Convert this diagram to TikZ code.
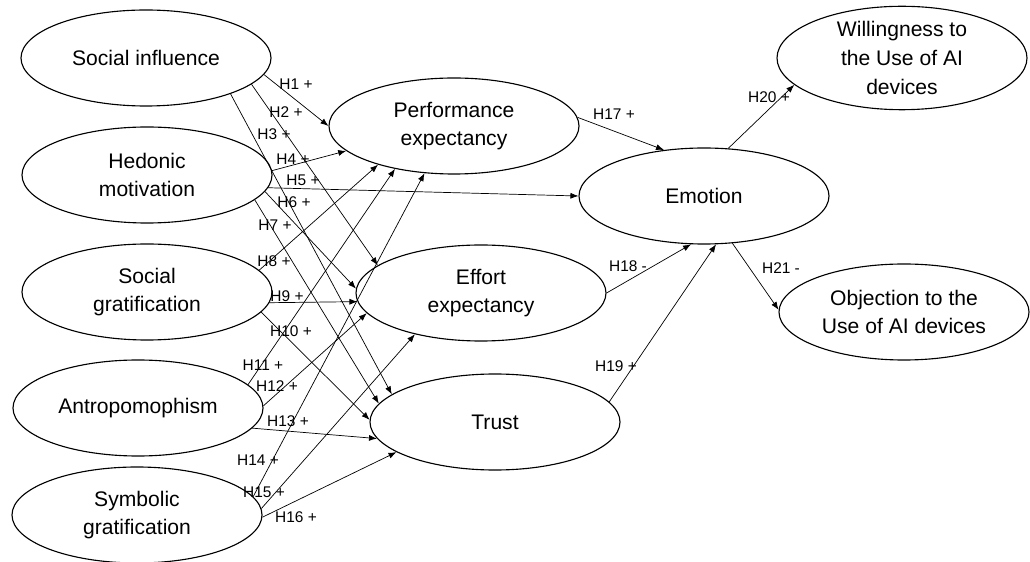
\documentclass[tikz,border=0pt]{standalone}
\usepackage{fontspec}
\setmainfont{Liberation Sans}
\usetikzlibrary{shapes.geometric, arrows.meta}

\tikzset{
  construct/.style={ellipse, draw, line width=0.8pt, minimum width=6.25cm, minimum height=2.4cm,
    inner sep=0pt, align=center, font=\fontsize{15}{20.5}\selectfont},
  hyp/.style={-{Latex[length=2mm, width=1.5mm]}, line width=0.5pt},
  hlabel/.style={font=\fontsize{11}{13}\selectfont, inner sep=0pt}
}

\begin{document}
\begin{tikzpicture}
            \useasboundingbox (0,0) rectangle (25.75,14.025);

            % Antecedentes
            \node[construct] (social) at (3.65, 12.575) {Social influence};
            \node[construct] (hedonic) at (3.675, 9.65) {Hedonic\\motivation};
            \node[construct] (socgrat) at (3.675, 6.725) {Social\\gratification};
            \node[construct] (antro) at (3.45, 3.825) {Antropomophism};
            \node[construct] (symgrat) at (3.425, 1.15) {Symbolic\\gratification};

            % Mediadores
            \node[construct] (perf) at (11.35, 10.875) {Performance\\expectancy};
            \node[construct] (effort) at (12.025, 6.7) {Effort\\expectancy};
            \node[construct] (trust) at (12.375, 3.475) {Trust};
            \node[construct] (emotion) at (17.6, 9.125) {Emotion};

            % Resultados
            \node[construct] (willing) at (22.55, 12.575) {Willingness to\\the Use of AI\\devices};
            \node[construct] (object) at (22.6, 6.225) {Objection to the\\Use of AI devices};

            % Hipotesis H1 - H16
            \draw[hyp] (social.-8) -- (perf.180);
            \draw[hyp] (social.-14) -- (effort.165);
            \draw[hyp] (social.-23) -- (trust.165.5);
            \draw[hyp] (hedonic.2) -- (perf.193);
            \draw[hyp] (hedonic.-6) -- (emotion.180);
            \draw[hyp] (hedonic.-8) -- (effort.178.6);
            \draw[hyp] (hedonic.-13) -- (trust.171);
            \draw[hyp] (socgrat.11) -- (perf.207);
            \draw[hyp] (socgrat.-5.7) -- (effort.184.5);
            \draw[hyp] (socgrat.-10) -- (trust.179);
            \draw[hyp] (antro.12.5) -- (perf.216);
            \draw[hyp] (antro.1.4) -- (effort.190.6);
            \draw[hyp] (antro.-10) -- (trust.188);
            \draw[hyp] (symgrat.9.8) -- (perf.238);
            \draw[hyp] (symgrat.3.9) -- (effort.212.5);
            \draw[hyp] (symgrat.-1) -- (trust.197);

            % Hipotesis H17 - H21
            \draw[hyp] (perf.4.4) -- (emotion.131.7);
            \draw[hyp] (effort.0.5) -- (emotion.255);
            \draw[hyp] (trust.10.6) -- (emotion.284);
            \draw[hyp] (emotion.63) -- (willing.194.7);
            \draw[hyp] (emotion.301) -- (object.179);

            % Etiquetas
            \node[hlabel] (h1) at (7.40, 11.925) {H1 +};
            \node[hlabel] (h2) at (7.15, 11.225) {H2 +};
            \node[hlabel] (h3) at (6.85, 10.675) {H3 +};
            \node[hlabel] (h4) at (7.325, 10.05) {H4 +};
            \node[hlabel] (h5) at (7.575, 9.525) {H5 +};
            \node[hlabel] (h6) at (7.35, 8.975) {H6 +};
            \node[hlabel] (h7) at (6.875, 8.4) {H7 +};
            \node[hlabel] (h8) at (6.85, 7.5) {H8 +};
            \node[hlabel] (h9) at (7.175, 6.625) {H9 +};
            \node[hlabel] (h10) at (7.275, 5.75) {H10 +};
            \node[hlabel] (h11) at (6.575, 4.9) {H11 +};
            \node[hlabel] (h12) at (6.925, 4.375) {H12 +};
            \node[hlabel] (h13) at (7.2, 3.5) {H13 +};
            \node[hlabel] (h14) at (6.45, 2.525) {H14 +};
            \node[hlabel] (h15) at (6.6, 1.725) {H15 +};
            \node[hlabel] (h16) at (7.4, 1.1) {H16 +};
            \node[hlabel] (h17) at (15.35, 11.175) {H17 +};
            \node[hlabel] (h18) at (15.7, 7.375) {H18 -};
            \node[hlabel] (h19) at (15.4, 4.875) {H19 +};
            \node[hlabel] (h20) at (19.225, 11.6) {H20 +};
            \node[hlabel] (h21) at (19.525, 7.325) {H21 -};
\end{tikzpicture}
\end{document}
